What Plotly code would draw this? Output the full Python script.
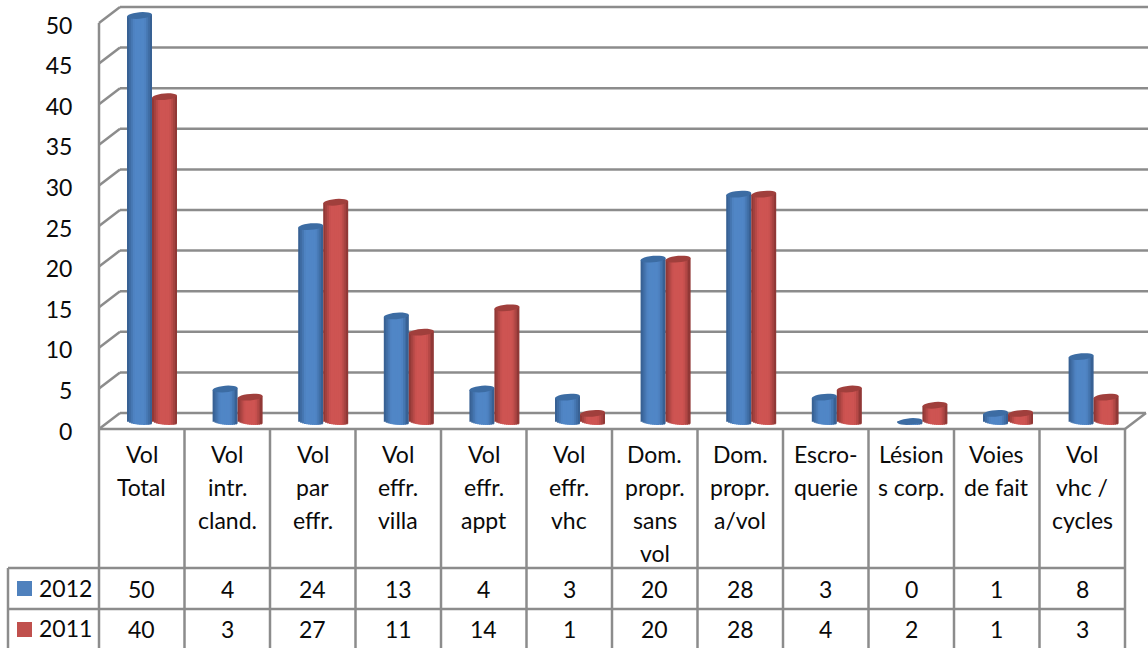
import math

import plotly.graph_objects as go

categories = [
    "Vol<br>Total",
    "Vol<br>intr.<br>cland.",
    "Vol<br>par<br>effr.",
    "Vol<br>effr.<br>villa",
    "Vol<br>effr.<br>appt",
    "Vol<br>effr.<br>vhc",
    "Dom.<br>propr.<br>sans<br>vol",
    "Dom.<br>propr.<br>a/vol",
    "Escro-<br>querie",
    "Lésion<br>s corp.",
    "Voies<br>de fait",
    "Vol<br>vhc /<br>cycles",
]
valeurs_2012 = [50, 4, 24, 13, 4, 3, 20, 28, 3, 0, 1, 8]
valeurs_2011 = [40, 3, 27, 11, 14, 1, 20, 28, 4, 2, 1, 3]
graduations = [0, 5, 10, 15, 20, 25, 30, 35, 40, 45, 50]

W, H = 1148, 648
GAUCHE = 99  # bord gauche de la zone de tracé
ECHELLE = 8.12  # pixels par unité
FONT = "Lato"
GRIS = "#8c8c8c"
NOIR = "#0a0a0a"


def px(x):
    return (x - GAUCHE) / (W - GAUCHE)


def py(y):
    return 1 - y / H


def melange(c1, c2, t):
    return "rgb(%d,%d,%d)" % tuple(round(a + (b - a) * t) for a, b in zip(c1, c2))


def trait(x0, y0, x1, y1, largeur=2.5, couleur=GRIS):
    return dict(
        type="line", xref="paper", yref="paper", layer="below",
        x0=px(x0), y0=py(y0), x1=px(x1), y1=py(y1),
        line=dict(color=couleur, width=largeur),
    )


def texte(x, y, t, taille=23, ancre="center"):
    return dict(
        xref="paper", yref="paper", x=px(x), y=py(y), text=t, showarrow=False,
        xanchor=ancre, yanchor="middle", font=dict(family=FONT, size=taille, color=NOIR),
    )


fig = go.Figure()

# trace invisible pour que l'axe des libellés soit dessiné
fig.add_trace(
    go.Scatter(x=[0] * len(graduations), y=graduations, mode="markers", marker=dict(opacity=0), hoverinfo="skip")
)

# cylindres : chaque barre est faite de bandes verticales pour le dégradé
DEMI = 0.292  # largeur d'une barre, en catégories
ELL = 0.40  # demi hauteur de l'ellipse, en unités
PENTE = 0.13
N = 13
x_cat = list(range(len(categories)))
series = [
    ("2012", valeurs_2012, -DEMI, (52, 92, 140), (80, 134, 198), "#3c6ca3"),
    ("2011", valeurs_2011, 0.0, (136, 52, 50), (206, 84, 82), "#a03f3c"),
]
formes = []
for nom, valeurs, depart, sombre, clair, dessus in series:
    pas = DEMI / N
    for k in range(N):
        u = (k + 0.5) / N * 2 - 1
        bas = [-(ELL * math.sqrt(1 - u * u) + PENTE * u) for v in valeurs]
        haut = [v + PENTE * u - b for v, b in zip(valeurs, bas)]
        fig.add_trace(
            go.Bar(
                x=x_cat, y=haut, base=bas, yaxis="y2", name=nom,
                offset=depart + pas * k,
                width=pas * (1 if k == N - 1 else 1.7),
                marker=dict(color=melange(sombre, clair, min(1, (1 - abs(u)) * 1.7)), line_width=0),
                showlegend=False,
            )
        )
    # ellipse du dessus
    for i, v in enumerate(valeurs):
        pts = []
        for a in range(0, 360, 15):
            t = math.radians(a)
            xp = i + depart + DEMI / 2 + DEMI / 2 * math.cos(t)
            yp = v + ELL * math.sin(t) + PENTE * math.cos(t)
            pts.append("%s%.4f,%.4f" % ("M" if a == 0 else "L", xp, yp))
        formes.append(
            dict(type="path", xref="x", yref="y2", path=" ".join(pts) + " Z",
                 fillcolor=dessus, line=dict(width=0))
        )

# murs : grille du fond et diagonales
for g in graduations:
    y_av = 429 - g * ECHELLE
    y_ar = y_av - 16
    fin = 1146 if g == 0 else W
    formes.append(trait(120, y_ar, fin, y_ar))
    formes.append(trait(99, y_av, 120, y_ar))
formes.append(trait(99, 429 - 50 * ECHELLE, 99, 429))
formes.append(trait(99, 429, 1125, 429))
formes.append(trait(1125, 429, 1146, 413))

# tableau de données
COL = 85.5
for i in range(len(categories) + 1):
    x = 99 + COL * i
    formes.append(trait(x, 429, x, H))
formes.append(trait(8, 568, 8, H))
formes.append(trait(8, 568, 1125, 568))
formes.append(trait(8, 609, 1125, 609))
for y, couleur in ((588.5, "#4f81bd"), (629.5, "#c0504d")):
    formes.append(
        dict(type="rect", xref="paper", yref="paper", line=dict(width=0), fillcolor=couleur,
             x0=px(17), x1=px(32), y0=py(y - 7.5), y1=py(y + 7.5))
    )

notes = [texte(37, 588, "2012", ancre="left"), texte(37, 628, "2011", ancre="left")]
for i, c in enumerate(categories):
    xc = 99 + COL * (i + 0.5)
    for ligne, yl in zip(c.split("<br>"), (454.5, 487, 519.5, 552.5)):
        notes.append(texte(xc, yl, ligne))
    notes.append(texte(xc, 589, str(valeurs_2012[i])))
    notes.append(texte(xc, 628.5, str(valeurs_2011[i])))

fig.update_layout(
    width=W,
    height=H,
    margin=dict(l=GAUCHE, r=0, t=0, b=0),
    paper_bgcolor="white",
    plot_bgcolor="white",
    barmode="overlay",
    showlegend=False,
    shapes=formes,
    annotations=notes,
    xaxis=dict(range=[(GAUCHE - 152) / 85.6, (W - 152) / 85.6], visible=False, fixedrange=True),
    # axe des libellés, dans le plan avant (décalé pour caler le texte)
    yaxis=dict(
        range=[(431.5 - H) / ECHELLE, 431.5 / ECHELLE],
        tickvals=graduations,
        showgrid=False, zeroline=False, showline=False,
        ticks="outside", ticklen=21, tickcolor="rgba(0,0,0,0)",
        tickfont=dict(family=FONT, size=23, color=NOIR),
        fixedrange=True,
    ),
    # axe des barres, à mi-profondeur
    yaxis2=dict(
        range=[(421.5 - H) / ECHELLE, 421.5 / ECHELLE],
        overlaying="y", visible=False, fixedrange=True,
    ),
)

fig.write_html("out.html", config=dict(displayModeBar=False), post_script="document.body.style.margin='0';")
